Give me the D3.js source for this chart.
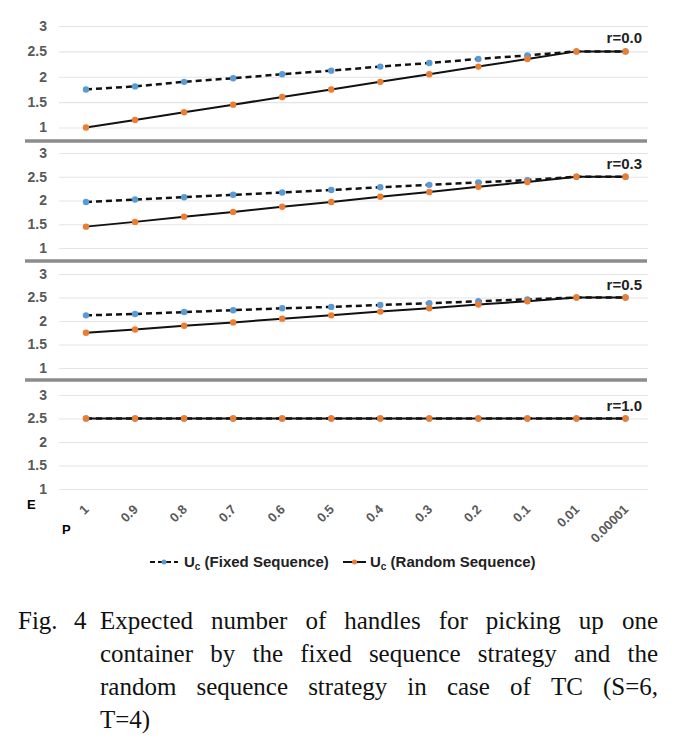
<!DOCTYPE html>
<html lang="en">
<head>
<meta charset="UTF-8">
<title>Expected number of handles</title>
<script src="https://d3js.org/d3.v7.min.js"></script>
<style>
    body { margin: 0; background: #fff; }
    .tick text { font-family: Arial, "Liberation Sans", sans-serif; font-weight: bold; fill: #595959; }
    .rlabel { font-family: Arial, "Liberation Sans", sans-serif; font-weight: bold; font-size: 15px; fill: #222; }
    .legend text { font-family: Arial, "Liberation Sans", sans-serif; font-weight: bold; font-size: 15px; fill: #222; }
    .caption { font-family: "Liberation Serif", "DejaVu Serif", serif; font-size: 25px; fill: #111; }
</style>
</head>
<body>
<svg id="svg" width="676" height="746"></svg>
<script>
    // Data
    const categories = ["1", "0.9", "0.8", "0.7", "0.6", "0.5", "0.4", "0.3", "0.2", "0.1", "0.01", "0.00001"];
    const panelLabels = ["r=0.0", "r=0.3", "r=0.5", "r=1.0"];
    const yTicks = [1, 1.5, 2, 2.5, 3];

    const fixedR00 = [1.75, 1.81, 1.9, 1.97, 2.05, 2.12, 2.2, 2.27, 2.35, 2.42, 2.5, 2.5];
    const randomR00 = [1.0, 1.15, 1.3, 1.45, 1.6, 1.75, 1.9, 2.05, 2.2, 2.35, 2.5, 2.5];
    const fixedR03 = [1.97, 2.02, 2.07, 2.12, 2.17, 2.22, 2.28, 2.33, 2.38, 2.43, 2.5, 2.5];
    const randomR03 = [1.45, 1.55, 1.66, 1.76, 1.87, 1.97, 2.08, 2.18, 2.29, 2.39, 2.5, 2.5];
    const fixedR05 = [2.12, 2.15, 2.19, 2.23, 2.27, 2.3, 2.34, 2.38, 2.42, 2.46, 2.5, 2.5];
    const randomR05 = [1.75, 1.82, 1.9, 1.97, 2.05, 2.12, 2.2, 2.27, 2.35, 2.42, 2.5, 2.5];
    const fixedR10 = [2.5, 2.5, 2.5, 2.5, 2.5, 2.5, 2.5, 2.5, 2.5, 2.5, 2.5, 2.5];
    const randomR10 = [2.5, 2.5, 2.5, 2.5, 2.5, 2.5, 2.5, 2.5, 2.5, 2.5, 2.5, 2.5];

    const fixedSeries = [fixedR00, fixedR03, fixedR05, fixedR10];
    const randomSeries = [randomR00, randomR03, randomR05, randomR10];

    const captionLines = [
        "Expected number of handles for picking up one",
        "container by the fixed sequence strategy and the",
        "random sequence strategy in case of TC (S=6,",
        "T=4)"
    ];

    const blue = "#5b9bd5", orange = "#ed7d31";
    const svg = d3.select("#svg");

    // layout
    const gridLeft = 59, gridRight = 648;
    const panelRanges = [[127.5, 26], [248, 153], [368, 274], [489, 395]];
    const separators = [141, 261, 380];

    const x = d3.scalePoint().domain(categories).range([86, 625.5]);

    panelRanges.forEach((range, i) => {
        const y = d3.scaleLinear().domain([1, 3]).range(range);
        const g = svg.append("g");

        // gridlines + y labels
        g.append("g")
            .attr("transform", `translate(${gridLeft},0)`)
            .call(d3.axisLeft(y).tickValues(yTicks).tickSize(-(gridRight - gridLeft)).tickPadding(12).tickFormat(d3.format("")))
            .call(a => a.select(".domain").remove())
            .call(a => a.selectAll("line").attr("stroke", "#e4e4e4").attr("stroke-width", 1.2))
            .call(a => a.selectAll("text").attr("font-size", 14));

        const line = d3.line().x((d, j) => x(categories[j])).y(d => y(d));

        g.append("path")
            .datum(fixedSeries[i])
            .attr("d", line)
            .attr("fill", "none")
            .attr("stroke", "#111")
            .attr("stroke-width", 2.5)
            .attr("stroke-dasharray", "6,4");
        g.selectAll(".fdot").data(fixedSeries[i]).enter().append("circle")
            .attr("cx", (d, j) => x(categories[j]))
            .attr("cy", d => y(d))
            .attr("r", 3.2)
            .attr("fill", blue);

        g.append("path")
            .datum(randomSeries[i])
            .attr("d", line)
            .attr("fill", "none")
            .attr("stroke", "#111")
            .attr("stroke-width", 2);
        g.selectAll(".rdot").data(randomSeries[i]).enter().append("circle")
            .attr("cx", (d, j) => x(categories[j]))
            .attr("cy", d => y(d))
            .attr("r", 3.2)
            .attr("fill", orange);

        g.append("text")
            .attr("class", "rlabel")
            .attr("x", 642)
            .attr("y", y(2.5) - 8)
            .attr("text-anchor", "end")
            .text(panelLabels[i]);
    });

    // thick gray separators between panels
    svg.selectAll(".sep").data(separators).enter().append("line")
        .attr("x1", 25).attr("x2", 647)
        .attr("y1", d => d).attr("y2", d => d)
        .attr("stroke", "#8c8c8c")
        .attr("stroke-width", 3.5);

    // x axis labels, rotated
    const xAxis = svg.append("g")
        .attr("transform", "translate(0,500)")
        .call(d3.axisBottom(x).tickSize(0).tickPadding(0))
        .call(a => a.select(".domain").remove());
    xAxis.selectAll("text")
        .attr("font-size", 13)
        .attr("text-anchor", "end")
        .attr("dy", "0.35em")
        .attr("transform", "translate(0,7) rotate(-45)");

    svg.append("text").attr("x", 27).attr("y", 509)
        .attr("font-family", "Arial, sans-serif").attr("font-weight", "bold").attr("font-size", 13).text("E");
    svg.append("text").attr("x", 62).attr("y", 534)
        .attr("font-family", "Arial, sans-serif").attr("font-weight", "bold").attr("font-size", 13).text("P");

    // legend
    const legend = svg.append("g").attr("class", "legend");
    const items = [
        { x1: 150, x2: 178, color: blue, dash: "5,3", tx: 184, label: "(Fixed Sequence)" },
        { x1: 343, x2: 366, color: orange, dash: null, tx: 370, label: "(Random Sequence)" }
    ];
    items.forEach(it => {
        legend.append("line")
            .attr("x1", it.x1).attr("x2", it.x2).attr("y1", 562).attr("y2", 562)
            .attr("stroke", "#111").attr("stroke-width", 2)
            .attr("stroke-dasharray", it.dash);
        legend.append("circle")
            .attr("cx", (it.x1 + it.x2) / 2).attr("cy", 562).attr("r", 2.5).attr("fill", it.color);
        const t = legend.append("text").attr("x", it.tx).attr("y", 567);
        t.append("tspan").text("U");
        t.append("tspan").attr("font-size", 10).attr("dy", 3).text("c");
        t.append("tspan").attr("dy", -3).text(" " + it.label);
    });

    // caption, justified between 100 and 658
    svg.append("text").attr("class", "caption").attr("x", 18).attr("y", 629).text("Fig.");
    svg.append("text").attr("class", "caption").attr("x", 74).attr("y", 629).text("4");
    const left = 100, right = 658, baselines = [629, 662, 695, 728];
    captionLines.forEach((line, i) => {
        const words = line.split(" ");
        const nodes = words.map(w => svg.append("text").attr("class", "caption").attr("y", baselines[i]).text(w));
        const widths = nodes.map(n => n.node().getComputedTextLength());
        const total = d3.sum(widths);
        const last = i === captionLines.length - 1;
        const gap = last || words.length < 2 ? 6 : (right - left - total) / (words.length - 1);
        let cx = left;
        nodes.forEach((n, j) => {
            n.attr("x", cx);
            cx += widths[j] + gap;
        });
    });
</script>
</body>
</html>
